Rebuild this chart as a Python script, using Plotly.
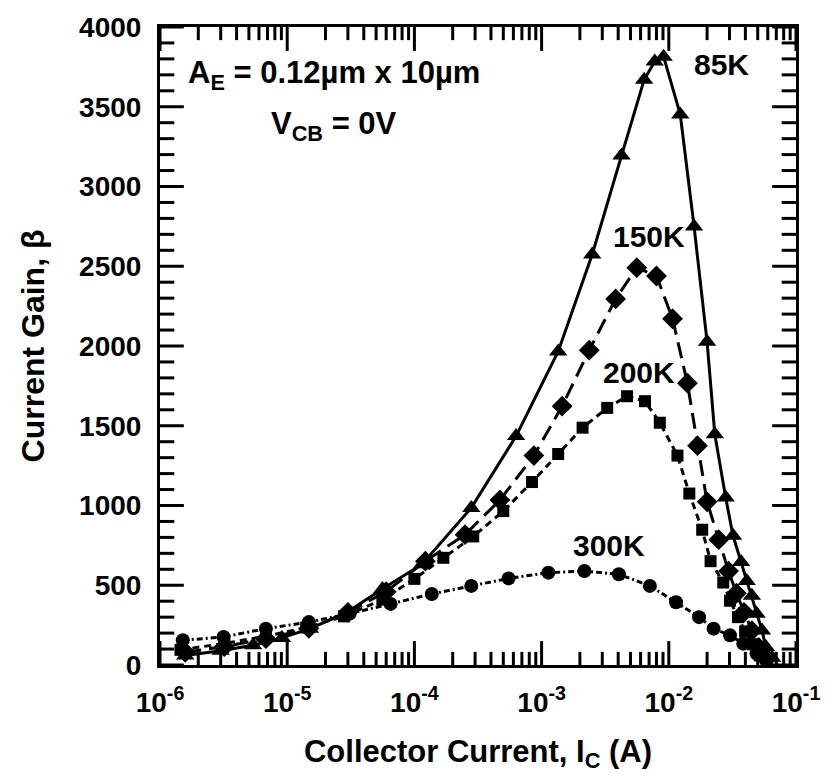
import math
import plotly.graph_objects as go

# Collector current (A) and current gain for each temperature
ic_85k = [1.58e-6, 3.0e-6, 5.4e-6, 9.1e-6, 1.51e-5, 2.95e-5, 5.6e-5, 1.15e-4, 2.8e-4, 6.3e-4,
          1.35e-3, 2.5e-3, 4.25e-3, 6.4e-3, 7.75e-3, 9.1e-3, 1.23e-2, 1.58e-2, 2.0e-2, 2.3e-2,
          2.8e-2, 3.2e-2, 3.7e-2, 4.1e-2, 4.5e-2, 4.9e-2, 5.4e-2, 5.8e-2, 6.5e-2]
beta_85k = [60, 90, 124, 170, 228, 330, 476, 632, 985, 1435,
            1966, 2574, 3194, 3669, 3783, 3814, 3452, 2749, 2026, 1447,
            1050, 810, 645, 527, 434, 322, 217, 113, 45]

ic_150k = [1.58e-6, 3.2e-6, 6.8e-6, 1.48e-5, 3.0e-5, 6.0e-5, 1.22e-4, 2.5e-4, 4.7e-4, 8.7e-4,
           1.45e-3, 2.37e-3, 3.82e-3, 5.6e-3, 8.0e-3, 1.07e-2, 1.40e-2, 1.68e-2, 2.0e-2, 2.47e-2,
           2.95e-2, 3.4e-2, 3.9e-2, 4.5e-2, 5.1e-2, 5.9e-2]
beta_150k = [80, 115, 165, 230, 330, 460, 651, 817, 1034, 1313,
             1623, 1974, 2295, 2491, 2439, 2171, 1767, 1375, 1023, 786,
             589, 450, 330, 215, 110, 40]

ic_200k = [1.45e-6, 3.2e-6, 6.8e-6, 1.41e-5, 2.8e-5, 5.6e-5, 1.0e-4, 1.69e-4, 2.9e-4, 5.0e-4,
           8.4e-4, 1.35e-3, 2.1e-3, 3.28e-3, 4.7e-3, 6.5e-3, 8.5e-3, 1.17e-2, 1.45e-2, 1.83e-2,
           2.13e-2, 2.68e-2, 3.03e-2, 3.5e-2, 3.98e-2, 4.6e-2, 5.2e-2, 5.9e-2]
beta_200k = [95, 135, 180, 235, 305, 410, 540, 672, 806, 965,
             1147, 1323, 1488, 1612, 1685, 1654, 1519, 1313, 1075, 848,
             651, 517, 403, 300, 210, 130, 60, 20]

ic_300k = [1.51e-6, 3.16e-6, 6.8e-6, 1.48e-5, 3.1e-5, 6.5e-5, 1.37e-4, 2.8e-4, 5.5e-4, 1.13e-3,
           2.17e-3, 4.05e-3, 7.1e-3, 1.14e-2, 1.73e-2, 2.25e-2, 3.03e-2, 3.85e-2, 4.9e-2, 5.8e-2]
beta_300k = [155, 176, 228, 269, 322, 383, 445, 496, 543, 579,
             589, 569, 496, 393, 300, 228, 186, 134, 72, 31]

x_tick_vals = [1e-6, 1e-5, 1e-4, 1e-3, 1e-2, 1e-1]
x_tick_text = ["<b>10<sup>-6</sup></b>", "<b>10<sup>-5</sup></b>", "<b>10<sup>-4</sup></b>",
               "<b>10<sup>-3</sup></b>", "<b>10<sup>-2</sup></b>", "<b>10<sup>-1</sup></b>"]
y_tick_vals = [0, 500, 1000, 1500, 2000, 2500, 3000, 3500, 4000]
y_tick_text = ["<b>%d</b>" % v for v in y_tick_vals]

x_minor_vals = [m * 10.0 ** e for e in range(-6, -1) for m in range(2, 10)]
y_minor_vals = [v for v in range(0, 4001, 100) if v % 500]

FONT = "Liberation Sans"

# figure geometry
W, H = 832, 780
M_L, M_R, M_T, M_B = 160, 25, 20, 115
X_RANGE = [-6, -1]          # log10 decades
Y_RANGE = [0, 4000]
px_per_decade = (W - M_L - M_R) / (X_RANGE[1] - X_RANGE[0])
px_per_unit = (H - M_T - M_B) / (Y_RANGE[1] - Y_RANGE[0])

fig = go.Figure()


def add_ticks(xs, ys, symbol, length):
    """Inward tick marks drawn as line-shaped markers of the given pixel length."""
    fig.add_trace(go.Scatter(
        x=xs, y=ys, mode="markers", showlegend=False, hoverinfo="skip",
        marker=dict(symbol=symbol, size=length, color="black",
                    line=dict(color="black", width=3)),
    ))


# ticks on the bottom and top edges (vertical marks), centred half a length inside
for vals, length in ((x_tick_vals, 20), (x_minor_vals, 11)):
    half = (length / 2) / px_per_unit
    add_ticks(vals + vals,
              [Y_RANGE[0] + half] * len(vals) + [Y_RANGE[1] - half] * len(vals),
              "line-ns-open", length)

# ticks on the left and right edges (horizontal marks)
for vals, length in ((y_tick_vals, 20), (y_minor_vals, 12)):
    half = (length / 2) / px_per_decade
    add_ticks([10 ** (X_RANGE[0] + half)] * len(vals) + [10 ** (X_RANGE[1] - half)] * len(vals),
              vals + vals, "line-ew-open", length)

series = [
    (ic_85k, beta_85k, "85K", "solid", "triangle-up", 16),
    (ic_150k, beta_150k, "150K", "16px,8px", "diamond", 16),
    (ic_200k, beta_200k, "200K", "7px,5px", "square", 12),
    (ic_300k, beta_300k, "300K", "6px,3px,2px,3px", "circle", 14),
]
for ic, beta, name, dash, symbol, size in series:
    fig.add_trace(go.Scatter(
        x=ic, y=beta, name=name, mode="lines+markers",
        line=dict(color="black", width=3, dash=dash),
        marker=dict(symbol=symbol, size=size, color="black"),
    ))

label_font = dict(family=FONT, size=30, color="black")
# temperature labels next to each curve (log axis -> log10 position)
labels = [(2.6e-2, 3764, "85K"), (6.93e-3, 2685, "150K"), (5.8e-3, 1836, "200K"), (3.4e-3, 750, "300K")]
for lx, ly, txt in labels:
    fig.add_annotation(x=math.log10(lx), y=ly, xref="x", yref="y", text="<b>%s</b>" % txt,
                       showarrow=False, font=label_font, xanchor="center", yanchor="middle")

cond_font = dict(family=FONT, size=31, color="black")
fig.add_annotation(x=0.274, y=0.925, xref="paper", yref="paper",
                   text="<b>A<sub>E</sub> = 0.12µm x 10µm</b>", showarrow=False,
                   font=cond_font, xanchor="center", yanchor="middle")
fig.add_annotation(x=0.274, y=0.845, xref="paper", yref="paper",
                   text="<b>V<sub>CB</sub> = 0V</b>", showarrow=False,
                   font=cond_font, xanchor="center", yanchor="middle")

tick_font = dict(family=FONT, size=28, color="black")

fig.update_layout(
    xaxis=dict(
        type="log", range=X_RANGE,
        tickmode="array", tickvals=x_tick_vals, ticktext=x_tick_text,
        ticks="", showline=True, linewidth=3, linecolor="black", mirror=True,
        showgrid=False, zeroline=False,
        tickfont=tick_font, ticklabelstandoff=10,
        title=dict(text="<b>Collector Current, I<sub>C</sub> (A)</b>", standoff=24,
                   font=dict(family=FONT, size=31, color="black")),
    ),
    yaxis=dict(
        range=Y_RANGE,
        tickmode="array", tickvals=y_tick_vals, ticktext=y_tick_text,
        ticks="", showline=True, linewidth=3, linecolor="black", mirror=True,
        showgrid=False, zeroline=False,
        tickfont=tick_font, ticklabelstandoff=10,
        title=dict(text="<b>Current Gain, β</b>", standoff=25,
                   font=dict(family=FONT, size=32, color="black")),
    ),
    width=W, height=H,
    margin=dict(l=M_L, r=M_R, t=M_T, b=M_B),
    paper_bgcolor="white", plot_bgcolor="white",
    showlegend=False,
)

fig.write_html("out.html")
